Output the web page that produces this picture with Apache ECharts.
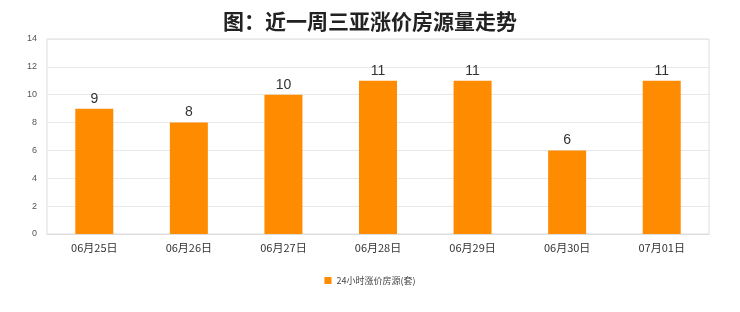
<!DOCTYPE html>
<html><head><meta charset="utf-8">
<script src="https://cdn.jsdelivr.net/npm/echarts@6/dist/echarts.min.js"></script>
<style>html,body{margin:0;padding:0;background:#fff}#c{width:740px;height:312px}</style>
</head><body><div id="c"></div>
<script>
const categories = ['06月25日','06月26日','06月27日','06月28日','06月29日','06月30日','07月01日'];
const values = [9, 8, 10, 11, 11, 6, 11];
const seriesName = '24小时涨价房源(套)';
const titleText = '图：近一周三亚涨价房源量走势';

const chart = echarts.init(document.getElementById('c'));
chart.setOption({
  backgroundColor: '#fff',
  animation: false,
  title: {
    text: titleText, left: 'center', top: 6,
    textStyle: {fontSize: 21, fontWeight: 'bold', color: '#222', fontFamily: 'Noto Sans CJK SC'}
  },
  legend: {
    bottom: 22, left: 'center', itemWidth: 7, itemHeight: 7, icon: 'rect',
    textStyle: {fontSize: 9, color: '#444', fontFamily: 'Noto Sans CJK SC'},
    data: [seriesName]
  },
  grid: {left: 47, right: 31, top: 39, bottom: 78, show: true, borderColor: '#ddd', borderWidth: 1},
  xAxis: {
    type: 'category', data: categories,
    axisLine: {lineStyle: {color: '#ddd'}},
    axisTick: {show: false},
    axisLabel: {fontSize: 11, color: '#333', margin: 8, fontFamily: 'Noto Sans CJK SC'}
  },
  yAxis: {
    type: 'value', min: 0, max: 14, interval: 2,
    axisLine: {show: false}, axisTick: {show: false},
    splitLine: {lineStyle: {color: '#e8e8e8'}},
    axisLabel: {fontSize: 9, color: '#555', margin: 10}
  },
  series: [{
    name: seriesName, type: 'bar', data: values, barWidth: 38,
    itemStyle: {color: '#FF8C00'},
    label: {show: true, position: 'top', fontSize: 14, color: '#333', distance: 3}
  }]
});
</script></body></html>
